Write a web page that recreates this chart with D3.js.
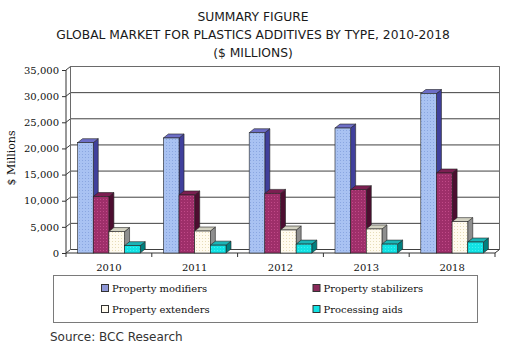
<!DOCTYPE html>
<html>
<head>
<meta charset="utf-8">
<script src="https://cdn.jsdelivr.net/npm/d3@7"></script>
<style>
  body { margin: 0; background: #fff; }
  svg { display: block; }
  .title { font-family: "DejaVu Sans", Verdana, sans-serif; font-size: 12.3px; fill: #1a1a1a; }
  .serif { font-family: "DejaVu Serif", serif; font-size: 10px; fill: #111; }
  .source { font-family: "DejaVu Sans", Verdana, sans-serif; font-size: 12px; fill: #333; }
</style>
</head>
<body>
<div id="chart"></div>
<script>
// Données
const years = ['2010', '2011', '2012', '2013', '2018']
const seriesNames = ['Property modifiers', 'Property stabilizers', 'Property extenders', 'Processing aids']
const modifiers = [21100, 22000, 23000, 23900, 30500]
const stabilizers = [10800, 11100, 11400, 12100, 15300]
const extenders = [4100, 4200, 4400, 4600, 6000]
const processingAids = [1400, 1500, 1700, 1700, 2100]
const yTicks = [0, 5000, 10000, 15000, 20000, 25000, 30000, 35000]

const seriesValues = [modifiers, stabilizers, extenders, processingAids]

//---------------------------------------------------------------------------------------

// Couleurs : face avant, dessus, côté
const palette = [
  { front: '#a9c2f2', top: '#6d6ec6', side: '#40409c', dot: '#8aa6e0', key: '#8f98d8' },
  { front: '#9e2f6a', top: '#7c1f52', side: '#4c0e30', dot: '#c04a88', key: '#8a2a5a' },
  { front: '#fffbef', top: '#d3d2c2', side: '#8e8e8e', dot: '#e6dcb8', key: '#fffbef' },
  { front: '#12e2e4', top: '#1bb4b6', side: '#00807f', dot: '#3ff0f0', key: '#12e2e4' }
]

const width = 511
const height = 353

const svg = d3.select('#chart')
  .append('svg')
  .attr('width', width)
  .attr('height', height)

// petites trames pour imiter le tramage du GIF
const defs = svg.append('defs')
palette.forEach((c, i) => {
  const p = defs.append('pattern')
    .attr('id', `tex${i}`)
    .attr('width', 3).attr('height', 3)
    .attr('patternUnits', 'userSpaceOnUse')
  p.append('rect').attr('width', 3).attr('height', 3).attr('fill', c.front)
  p.append('rect').attr('x', 1).attr('y', 1).attr('width', 1).attr('height', 1).attr('fill', c.dot)
})

//---------------------------------------------------------------------------------------

// Titraille
const titles = ['SUMMARY FIGURE', 'GLOBAL MARKET FOR PLASTICS ADDITIVES BY TYPE, 2010-2018', '($ MILLIONS)']
svg.append('g')
  .selectAll('text')
  .data(titles)
  .join('text')
  .attr('class', 'title')
  .attr('x', 253)
  .attr('y', (d, i) => 21 + i * 18)
  .attr('text-anchor', 'middle')
  .text(d => d)

//---------------------------------------------------------------------------------------

// Échelles
const plot = { left: 66, right: 495, bottom: 253, top: 70 }
const depth = { dx: 4.5, dy: 3.5 }

const scaleX = d3.scaleBand()
  .domain(years)
  .range([plot.left, plot.right])
  .paddingInner(0)
  .paddingOuter(0)

const scaleSeries = d3.scaleBand()
  .domain(d3.range(seriesNames.length))
  .range([0, scaleX.bandwidth()])
  .paddingOuter(0.74)

const scaleY = d3.scaleLinear()
  .domain([0, 35000])
  .range([plot.bottom, plot.top])

//---------------------------------------------------------------------------------------

// Cadre 3D : mur du fond, sol, quadrillage
const gridColor = '#404040'
const frame = svg.append('g').attr('fill', 'none').attr('stroke-width', 1)

// lignes du quadrillage sur le mur du fond + paroi gauche
frame.selectAll('.grid')
  .data(yTicks)
  .join('path')
  .attr('stroke', gridColor)
  .attr('d', d => {
    const y = scaleY(d)
    return `M${plot.left},${y}L${plot.left + depth.dx},${y - depth.dy}L${plot.right + depth.dx},${y - depth.dy}`
  })

// bord du mur du fond
frame.append('path')
  .attr('stroke', '#6a6a6a')
  .attr('d', `M${plot.left + depth.dx},${scaleY(0) - depth.dy}V${scaleY(35000) - depth.dy}H${plot.right + depth.dx}V${scaleY(0) - depth.dy}`)

// sol
frame.append('path')
  .attr('stroke', '#333')
  .attr('d', `M${plot.left},${plot.bottom}H${plot.right}L${plot.right + depth.dx},${plot.bottom - depth.dy}`)

// axe Y
const axisY = d3.axisLeft(scaleY)
  .tickValues(yTicks)
  .tickSize(4)
  .tickPadding(3)
  .tickFormat(d3.format(','))

svg.append('g')
  .attr('transform', `translate(${plot.left},0)`)
  .call(axisY)
  .call(g => g.select('.domain').attr('stroke', '#333').attr('d', `M0,${plot.bottom}V${plot.top}`))
  .call(g => g.selectAll('.tick line').attr('stroke', '#333'))
  .call(g => g.selectAll('.tick text').attr('class', 'serif').attr('fill', '#111'))
  .attr('font-family', null).attr('font-size', null)

// axe X
const axisX = d3.axisBottom(scaleX).tickSize(0).tickPadding(11)
const gX = svg.append('g')
  .attr('transform', `translate(0,${plot.bottom})`)
  .call(axisX)
  .attr('font-family', null).attr('font-size', null)
gX.select('.domain').remove()
gX.selectAll('.tick text').attr('class', 'serif').attr('fill', '#111')

// petites graduations entre catégories
gX.selectAll('.sep')
  .data(d3.range(years.length + 1))
  .join('line')
  .attr('x1', i => plot.left + i * scaleX.step())
  .attr('x2', i => plot.left + i * scaleX.step())
  .attr('y1', 0)
  .attr('y2', 4)
  .attr('stroke', '#333')

// titre axe Y
svg.append('text')
  .attr('class', 'serif')
  .attr('transform', 'translate(15,158) rotate(-90)')
  .attr('text-anchor', 'middle')
  .style('font-size', '11px')
  .text('$ Millions')

//---------------------------------------------------------------------------------------

// Barres 3D
const barData = years.flatMap((yr, j) => seriesValues.map((vals, i) => ({ year: yr, serie: i, value: vals[j] })))
const bd = { dx: 5, dy: 4 }

const bars = svg.append('g')
  .selectAll('g')
  .data(barData)
  .join('g')

bars.each(function (d) {
  const g = d3.select(this)
  const x = scaleX(d.year) + scaleSeries(d.serie)
  const w = scaleSeries.bandwidth()
  const yTop = scaleY(d.value)
  const yBot = scaleY(0)
  const c = palette[d.serie]

  // côté
  g.append('path')
    .attr('d', `M${x + w},${yTop}L${x + w + bd.dx},${yTop - bd.dy}V${yBot - bd.dy}L${x + w},${yBot}Z`)
    .attr('fill', c.side)
    .attr('stroke', '#222')
    .attr('stroke-width', 0.6)
  // dessus
  g.append('path')
    .attr('d', `M${x},${yTop}L${x + bd.dx},${yTop - bd.dy}H${x + w + bd.dx}L${x + w},${yTop}Z`)
    .attr('fill', c.top)
    .attr('stroke', '#222')
    .attr('stroke-width', 0.6)
  // face avant
  g.append('rect')
    .attr('x', x)
    .attr('y', yTop)
    .attr('width', w)
    .attr('height', yBot - yTop)
    .attr('fill', `url(#tex${d.serie})`)
    .attr('stroke', '#222')
    .attr('stroke-width', 0.6)
})

//---------------------------------------------------------------------------------------

// Légende
const legend = svg.append('g')
legend.append('rect')
  .attr('x', 53.5).attr('y', 275.5)
  .attr('width', 424).attr('height', 47)
  .attr('fill', '#fff')
  .attr('stroke', '#7a7a7a')

const legendItems = legend.selectAll('.item')
  .data(seriesNames)
  .join('g')
  .attr('transform', (d, i) => `translate(${i % 2 === 0 ? 101 : 312.5},${i < 2 ? 288 : 309})`)

legendItems.append('rect')
  .attr('x', 0.5).attr('y', -3.5)
  .attr('width', 7).attr('height', 7)
  .attr('fill', (d, i) => palette[i].key)
  .attr('stroke', '#333')

legendItems.append('text')
  .attr('class', 'serif')
  .attr('x', 11)
  .attr('y', 3.5)
  .text(d => d)

// Source
svg.append('text')
  .attr('class', 'source')
  .attr('x', 50)
  .attr('y', 341)
  .text('Source: BCC Research')
</script>
</body>
</html>
